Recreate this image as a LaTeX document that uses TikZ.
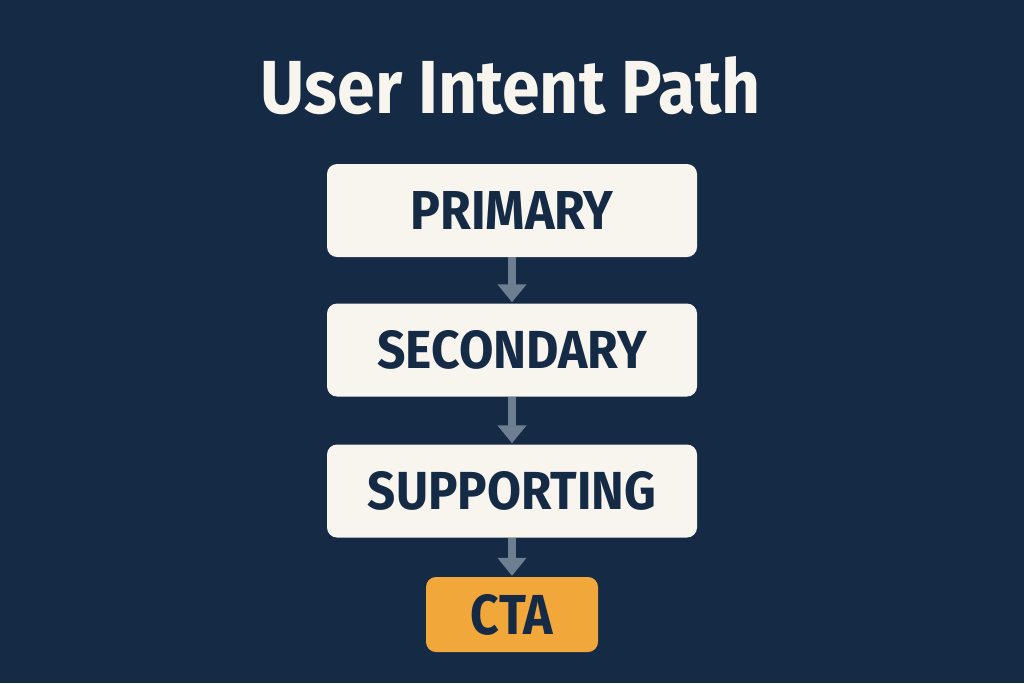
\documentclass[tikz,border=0pt]{standalone}
\usepackage{fontspec}
\setmainfont{Fira Sans}
\usepackage{graphicx}
\usetikzlibrary{arrows.meta}
\definecolor{bg}{HTML}{142A45}
\definecolor{boxfill}{HTML}{F8F4EE}
\definecolor{ctafill}{HTML}{F2A73B}
\definecolor{arrowgray}{HTML}{6E7E91}
\newcommand{\fitlabel}[3]{\resizebox{#1pt}{#2pt}{\bfseries #3}}
\tikzset{
  stagebox/.style={draw=none, fill=boxfill, rounded corners=10pt, minimum width=370pt, minimum height=93pt, inner sep=0pt, text=bg},
  ctabox/.style={draw=none, fill=ctafill, rounded corners=10pt, minimum width=172pt, minimum height=75pt, inner sep=0pt, text=bg},
  flow/.style={draw=arrowgray, line width=8pt, -{Triangle[width=28pt,length=18pt]}, shorten >=1pt}
}
\begin{document}
\begin{tikzpicture}[x=1pt,y=-1pt]
\fill[bg] (0,0) rectangle (1024,683);
\useasboundingbox (0,0) rectangle (1024,683);
\node[text=boxfill] (title) at (511,85.5) {\fitlabel{500}{57}{User Intent Path}};
\node[stagebox] (primary) at (512,210.5) {\fitlabel{203}{38}{PRIMARY}};
\node[stagebox] (secondary) at (512,350) {\fitlabel{269}{38}{SECONDARY}};
\node[stagebox] (supporting) at (512,491) {\fitlabel{288}{38}{SUPPORTING}};
\node[ctabox] (cta) at (512,614.5) {\fitlabel{82}{40}{CTA}};
\draw[flow] (primary.south) -- (secondary.north);
\draw[flow] (secondary.south) -- (supporting.north);
\draw[flow] (supporting.south) -- (cta.north);
\end{tikzpicture}
\end{document}
